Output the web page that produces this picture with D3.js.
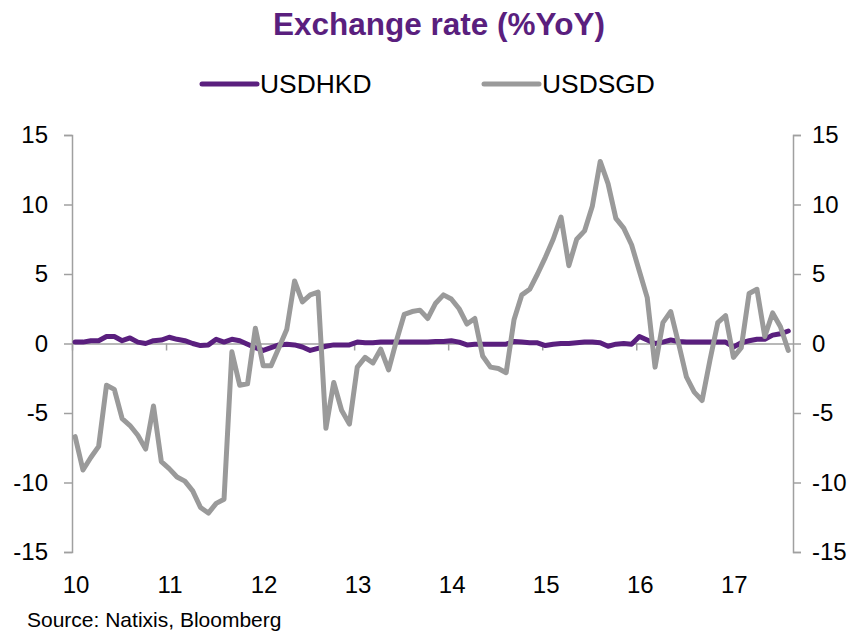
<!DOCTYPE html>
<html>
<head>
<meta charset="utf-8">
<script src="https://cdn.jsdelivr.net/npm/d3@7"></script>
<style>
  body { margin: 0; background: #fff; }
  svg { font-family: "Liberation Sans", Arial, sans-serif; }
</style>
</head>
<body>
<svg id="chart" width="854" height="633"></svg>
<script>
// monthly data, Jan 2010 .. Aug 2017
var yearLabels = ["10", "11", "12", "13", "14", "15", "16", "17"];
var yTicks = [-15, -10, -5, 0, 5, 10, 15];

var usdhkd = [
  0.1, 0.1, 0.2, 0.2, 0.5, 0.5, 0.2, 0.4, 0.1, 0.0, 0.2, 0.25,
  0.45, 0.3, 0.2, 0.0, -0.15, -0.1, 0.3, 0.1, 0.3, 0.2, -0.05, -0.3,
  -0.5, -0.3, -0.1, -0.05, -0.1, -0.25, -0.5, -0.35, -0.2, -0.1, -0.1, -0.1,
  0.1, 0.05, 0.05, 0.1, 0.1, 0.1, 0.1, 0.1, 0.1, 0.1, 0.15, 0.15,
  0.2, 0.1, -0.1, -0.05, -0.05, -0.05, -0.05, -0.05, 0.15, 0.1, 0.05, 0.05,
  -0.15, -0.05, 0, 0, 0.05, 0.1, 0.1, 0.05, -0.2, -0.05, 0, -0.05,
  0.5, 0.25, 0, 0.1, 0.25, 0.15, 0.1, 0.1, 0.1, 0.1, 0.1, 0.1,
  -0.25, 0.05, 0.2, 0.3, 0.3, 0.6, 0.7, 0.9
];

var usdsgd = [
  -6.7, -9.1, -8.2, -7.4, -3.0, -3.3, -5.4, -5.9, -6.6, -7.6, -4.5, -8.5,
  -9.0, -9.6, -9.9, -10.6, -11.8, -12.2, -11.5, -11.2, -0.6, -3.0, -2.9, 1.1,
  -1.6, -1.6, -0.3, 1.0, 4.5, 3.0, 3.5, 3.7, -6.1, -2.8, -4.8, -5.8,
  -1.7, -1.0, -1.4, -0.4, -1.9, 0.2, 2.1, 2.3, 2.4, 1.8, 2.9, 3.5,
  3.2, 2.5, 1.4, 1.8, -0.9, -1.7, -1.8, -2.1, 1.7, 3.5, 3.9, 5.0,
  6.2, 7.5, 9.1, 5.6, 7.5, 8.1, 9.9, 13.1, 11.5, 9.0, 8.3, 7.1,
  5.2, 3.3, -1.7, 1.5, 2.3, 0.0, -2.4, -3.5, -4.1, -1.2, 1.5, 2.0,
  -1.0, -0.3, 3.6, 3.9, 0.5, 2.2, 1.2, -0.5
];

var purple = "#5a1f7e",
    grey = "#9a9a9a",
    axisGrey = "#a0a0a0";

var svg = d3.select("#chart");

// plot edges (note: "top" is reserved on window, so use other names)
var plotL = 72, plotR = 793, plotT = 135, plotB = 552;

// months since Jan 2010
var x = d3.scaleLinear().domain([0, 92]).range([plotL, plotR]);
var y = d3.scaleLinear().domain([-15, 15]).range([plotB, plotT]);

// title
svg.append("text")
  .attr("x", 439).attr("y", 35)
  .attr("text-anchor", "middle")
  .attr("font-size", 31.5).attr("font-weight", "bold")
  .attr("fill", purple)
  .text("Exchange rate (%YoY)");

// legend
var legend = [
  { name: "USDHKD", color: purple, x: 202 },
  { name: "USDSGD", color: grey, x: 484 }
];
legend.forEach(function (d) {
  svg.append("line")
    .attr("x1", d.x).attr("x2", d.x + 55)
    .attr("y1", 84).attr("y2", 84)
    .attr("stroke", d.color).attr("stroke-width", 5)
    .attr("stroke-linecap", "round");
  svg.append("text")
    .attr("x", d.x + 58).attr("y", 93)
    .attr("font-size", 26.4).attr("fill", "#000")
    .text(d.name);
});

// left and right value axes (plain hyphen for negatives, like the original)
var yLeft = d3.axisLeft(y).tickValues(yTicks).tickSize(8).tickPadding(16)
  .tickFormat(String);
var yRight = d3.axisRight(y).tickValues(yTicks).tickSize(8).tickPadding(11)
  .tickFormat(String);

function styleAxis(g) {
  g.select(".domain").attr("stroke", axisGrey).attr("stroke-width", 1.5);
  g.selectAll(".tick line").attr("stroke", axisGrey).attr("stroke-width", 1.5);
  g.selectAll(".tick text").attr("font-size", 24).attr("fill", "#000")
    .attr("font-family", "Liberation Sans, Arial, sans-serif");
}

svg.append("g").attr("transform", "translate(" + plotL + ",0)")
  .call(yLeft).call(styleAxis);
svg.append("g").attr("transform", "translate(" + plotR + ",0)")
  .call(yRight).call(styleAxis);

// zero line acting as the date axis
var xAxis = d3.axisBottom(x)
  .tickValues(d3.range(0, 93, 12))
  .tickSize(7)
  .tickSizeOuter(0)
  .tickFormat("");
svg.append("g").attr("transform", "translate(0," + y(0) + ")")
  .call(xAxis).call(styleAxis);

// year labels at the bottom
svg.append("g").selectAll("text")
  .data(yearLabels)
  .enter().append("text")
  .attr("x", function (d, i) { return x(i * 12) + 4; })
  .attr("y", 593)
  .attr("text-anchor", "middle")
  .attr("font-size", 24).attr("fill", "#000")
  .text(function (d) { return d; });

// series lines
var line = d3.line()
  .x(function (d, i) { return x(i + 0.4); })
  .y(function (d) { return y(d); });

svg.append("path")
  .datum(usdhkd)
  .attr("d", line)
  .attr("fill", "none")
  .attr("stroke", purple).attr("stroke-width", 5)
  .attr("stroke-linejoin", "round").attr("stroke-linecap", "round");

svg.append("path")
  .datum(usdsgd)
  .attr("d", line)
  .attr("fill", "none")
  .attr("stroke", grey).attr("stroke-width", 5)
  .attr("stroke-linejoin", "round").attr("stroke-linecap", "round");

// source
svg.append("text")
  .attr("x", 27).attr("y", 627)
  .attr("font-size", 21).attr("fill", "#000")
  .text("Source: Natixis, Bloomberg");
</script>
</body>
</html>
